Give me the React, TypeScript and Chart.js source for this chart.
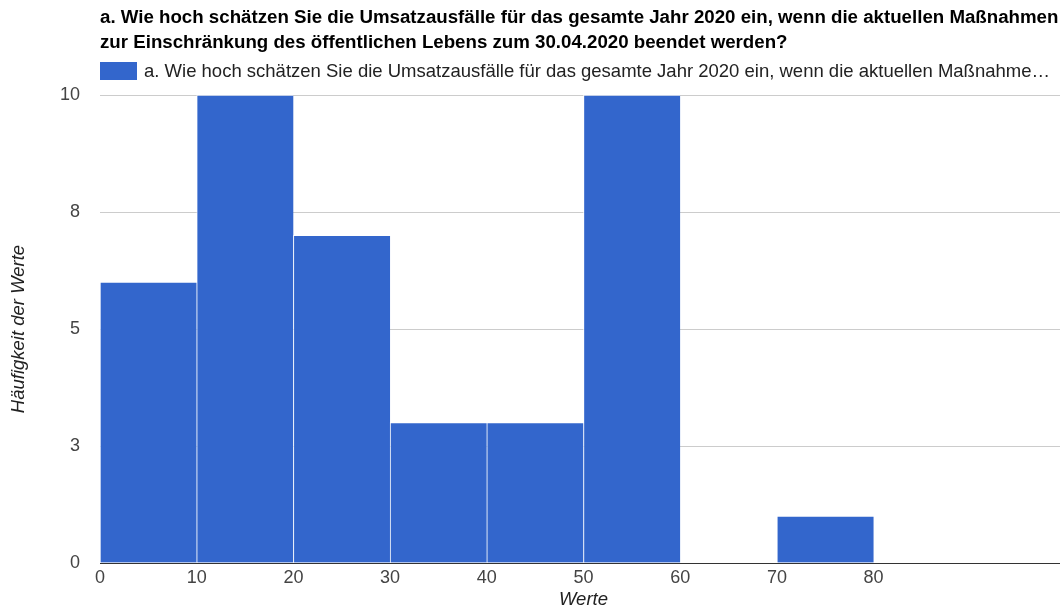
import { useEffect, useRef } from "react";
import { Chart, registerables } from "chart.js";

Chart.register(...registerables);

// Question text (title and series name)
const chartTitle = [
  "a. Wie hoch schätzen Sie die Umsatzausfälle für das gesamte Jahr 2020 ein, wenn die aktuellen Maßnahmen",
  "zur Einschränkung des öffentlichen Lebens zum 30.04.2020 beendet werden?",
];
const seriesLabel =
  "a. Wie hoch schätzen Sie die Umsatzausfälle für das gesamte Jahr 2020 ein, wenn die aktuellen Maßnahmen zur Einschränkung des öffentlichen Lebens zum 30.04.2020 beendet werden?";

// Histogram buckets: lower edge of each bucket and its count
const binStarts = [0, 10, 20, 30, 40, 50, 60, 70];
const binWidth = 10;
const counts = [6, 10, 7, 3, 3, 10, 0, 1];

// Axis ticks
const xTickValues = [0, 10, 20, 30, 40, 50, 60, 70, 80];
const yTickValues = [0, 2.5, 5, 7.5, 10];
const xAxisTitle = "Werte";
const yAxisTitle = "Häufigkeit der Werte";

const FONT = "'Liberation Sans', Arial, Helvetica, sans-serif";
const BAR_COLOR = "#3366cc";
const VIEW_W = 1060;
const VIEW_H = 611;
const CANVAS_W = 1080;

function fitText(ctx: CanvasRenderingContext2D, text: string, maxW: number): string {
  if (ctx.measureText(text).width <= maxW) return text;
  let s = text;
  while (s.length > 0 && ctx.measureText(s + "…").width > maxW) s = s.slice(0, -1);
  return s.replace(/\s+$/, "") + "…";
}

// Header: two-line bold title and the single-series key, aligned with the plot's left edge
const headerPlugin = {
  id: "header",
  afterDraw(chart: any) {
    const { ctx, chartArea } = chart;
    const ds = chart.data.datasets[0];
    const x = chartArea.left;
    ctx.save();
    ctx.textBaseline = "middle";
    ctx.textAlign = "left";

    ctx.font = `bold 18.7px ${FONT}`;
    ctx.fillStyle = "#000000";
    chartTitle.forEach((line, i) => ctx.fillText(line, x, 17.5 + i * 25));

    const ky = chartArea.top - 33;
    ctx.fillStyle = ds.backgroundColor;
    ctx.fillRect(x, ky, 37, 18);
    ctx.font = `18.5px ${FONT}`;
    ctx.fillStyle = "#222222";
    const tx = x + 44;
    ctx.fillText(fitText(ctx, ds.label, VIEW_W - 2 - tx), tx, ky + 9.5);
    ctx.restore();
  },
};

export default function App() {
  const canvasRef = useRef<HTMLCanvasElement>(null);

  useEffect(() => {
    const canvas = canvasRef.current;
    if (!canvas) return;
    const chart = new Chart(canvas, {
      type: "bar",
      data: {
        datasets: [
          {
            label: seriesLabel,
            data: binStarts.map((s, i) => ({ x: s + binWidth / 2, y: counts[i] })),
            backgroundColor: BAR_COLOR,
            borderColor: "rgba(255,255,255,0.7)",
            borderWidth: { top: 1, left: 1, right: 0, bottom: 0 },
            borderSkipped: false,
            barPercentage: 1,
            categoryPercentage: 1,
          },
        ],
      },
      options: {
        animation: false,
        responsive: false,
        maintainAspectRatio: false,
        layout: { padding: { left: 0, right: 13, top: 95, bottom: 0 } },
        plugins: {
          legend: { display: false },
          tooltip: { enabled: false },
          title: { display: false },
        },
        scales: {
          x: {
            type: "linear",
            min: 0,
            max: 100,
            offset: false,
            z: 1,
            grid: { display: false, drawTicks: false, offset: false },
            border: { display: true, color: "#333333", width: 1 },
            afterBuildTicks: (scale: any) => {
              scale.ticks = xTickValues.map((v) => ({ value: v }));
            },
            ticks: {
              padding: 4,
              color: "#444444",
              font: { family: FONT, size: 18 },
              maxRotation: 0,
              autoSkip: false,
            },
            title: {
              display: true,
              text: xAxisTitle,
              color: "#222222",
              font: { family: FONT, size: 18.5, style: "italic" },
              padding: { top: 0, bottom: 0 },
            },
            afterFit: (scale: any) => {
              scale.height = 48;
            },
          },
          y: {
            min: 0,
            max: 10,
            grid: { color: "#cccccc", drawTicks: false },
            border: { display: false },
            afterBuildTicks: (scale: any) => {
              scale.ticks = yTickValues.map((v) => ({ value: v }));
            },
            ticks: {
              padding: 20,
              color: "#444444",
              font: { family: FONT, size: 18 },
              callback: (v: any) => String(Math.round(Number(v))),
            },
            title: {
              display: true,
              text: yAxisTitle,
              color: "#222222",
              font: { family: FONT, size: 18.5, style: "italic" },
              padding: { top: 8, bottom: 0 },
            },
            afterFit: (scale: any) => {
              scale.width = 100;
            },
          },
        },
      } as any,
      plugins: [headerPlugin],
    });
    return () => chart.destroy();
  }, []);

  return (
    <div
      style={{
        position: "absolute",
        left: 0,
        top: 0,
        width: VIEW_W,
        height: VIEW_H,
        overflow: "hidden",
        background: "#ffffff",
      }}
    >
      <canvas
        ref={canvasRef}
        width={CANVAS_W}
        height={VIEW_H}
        style={{ display: "block", width: CANVAS_W, height: VIEW_H }}
      />
    </div>
  );
}
